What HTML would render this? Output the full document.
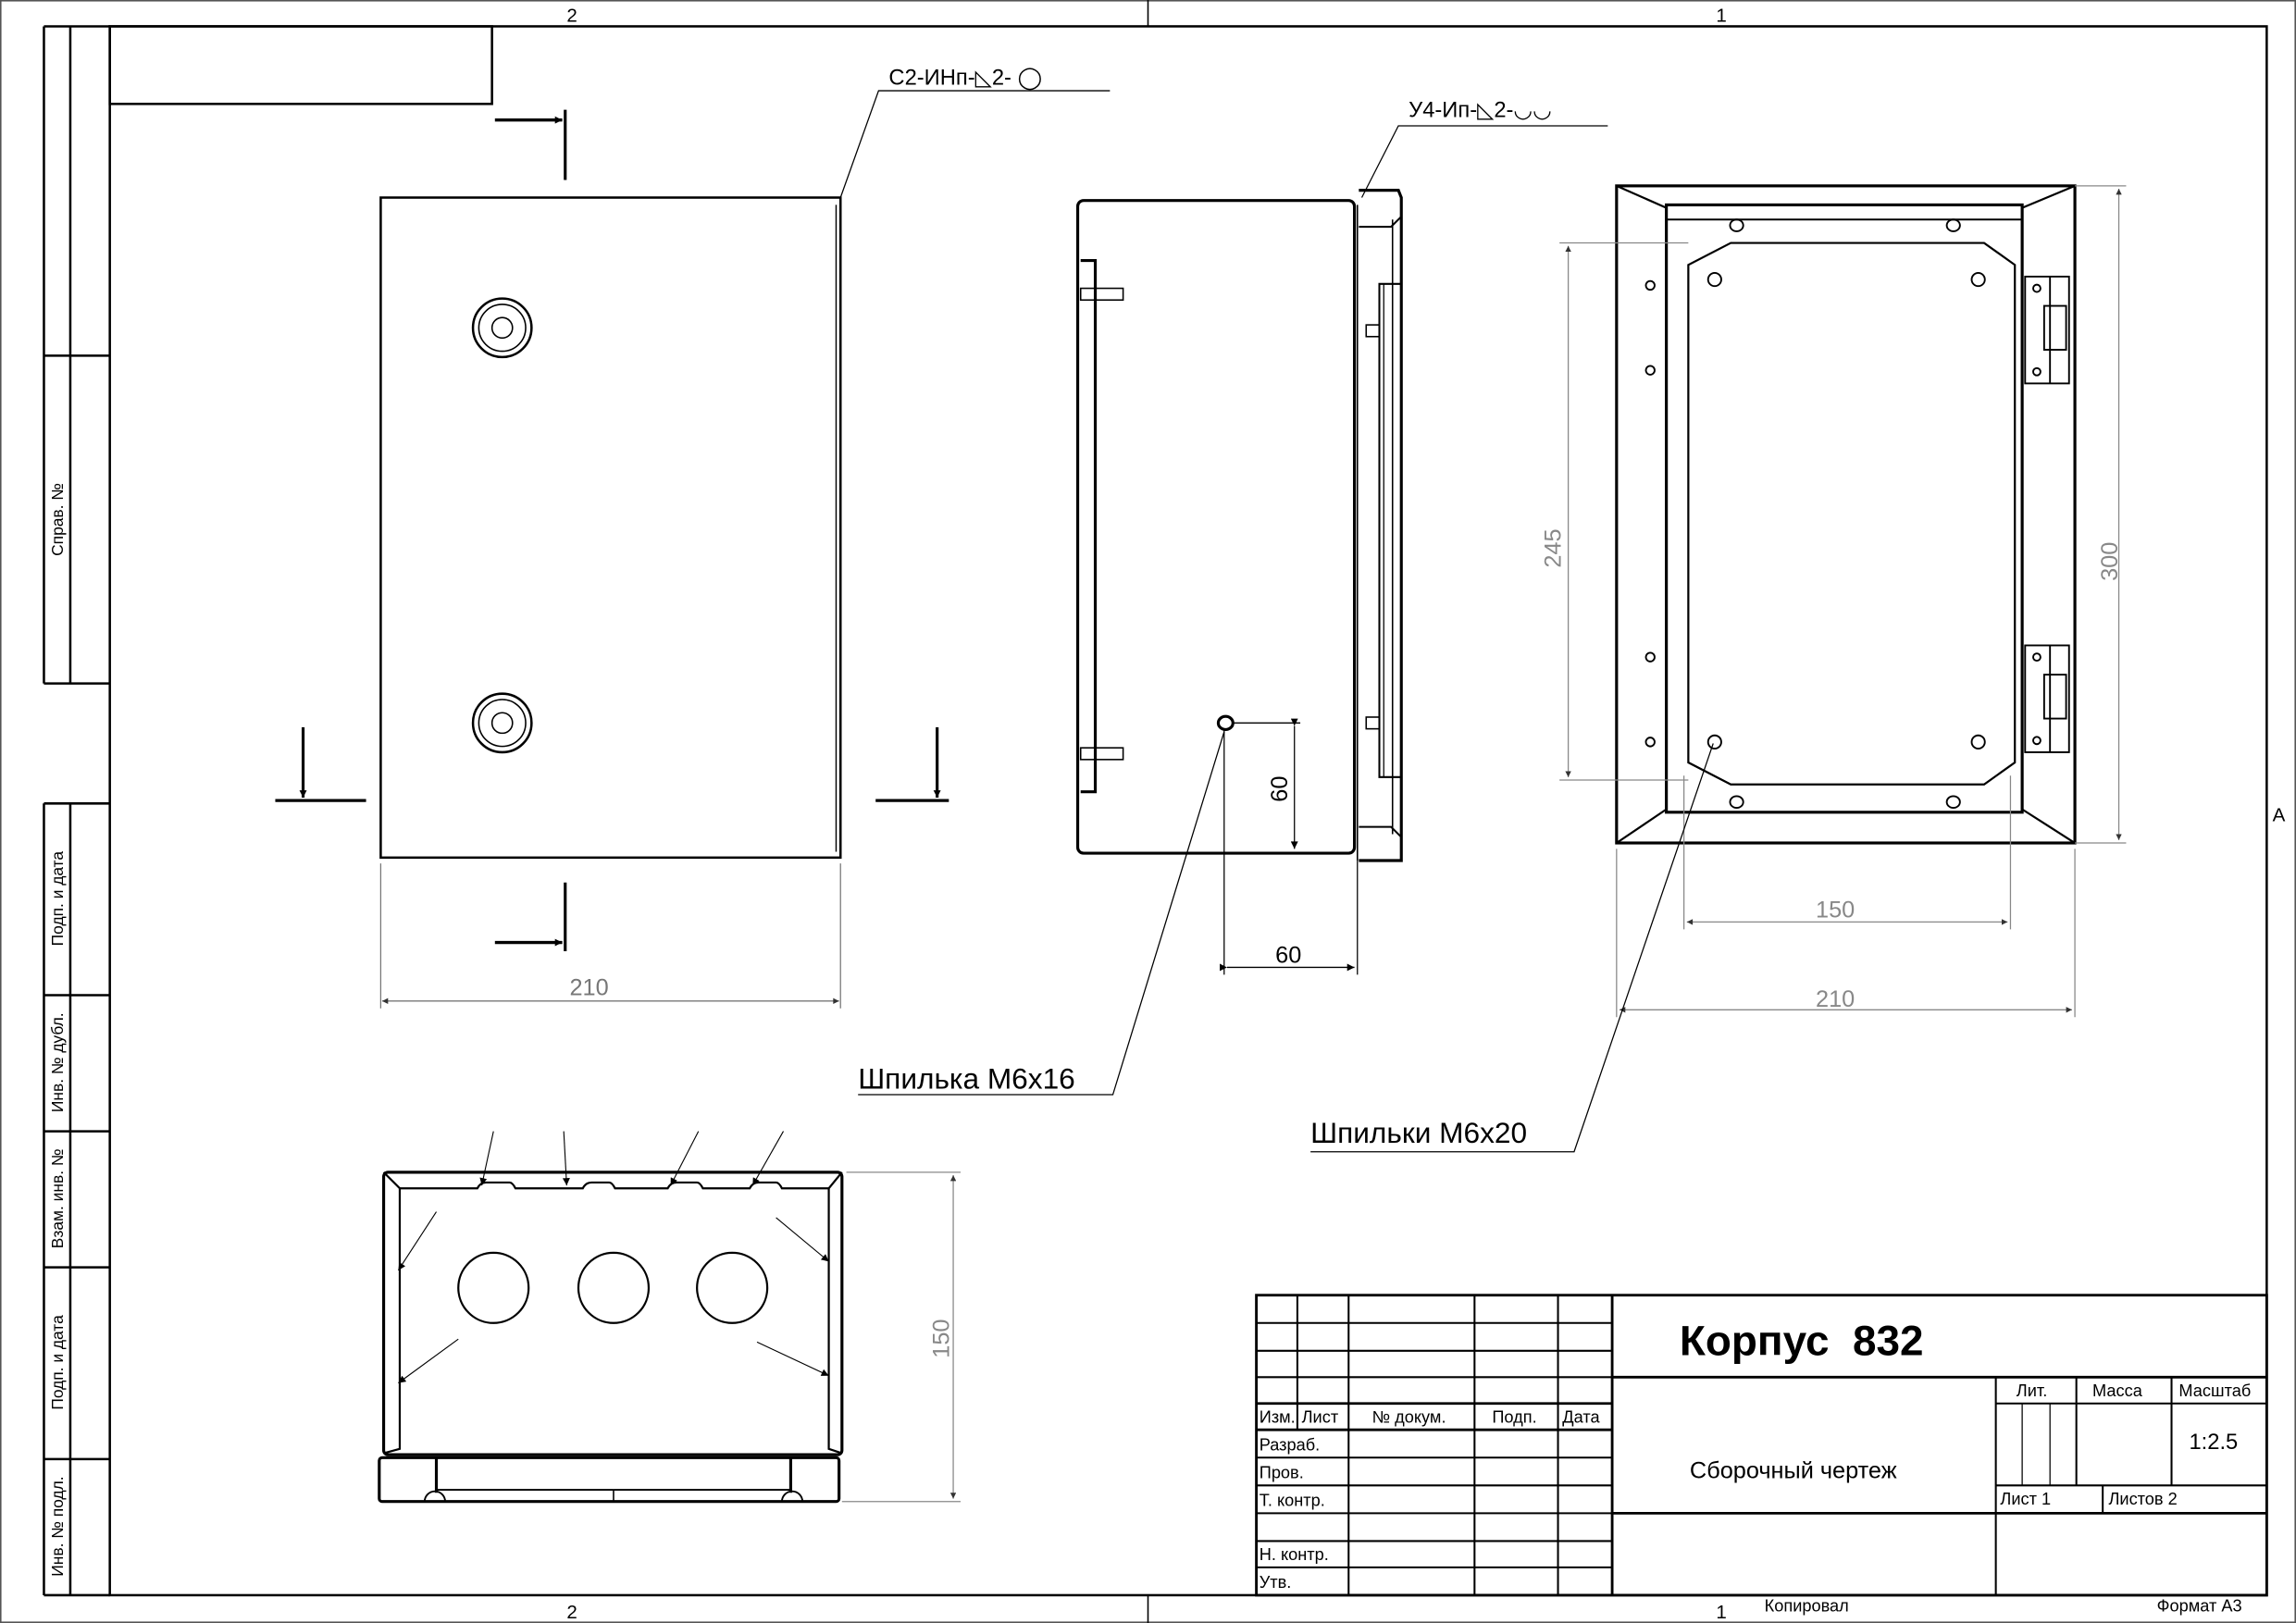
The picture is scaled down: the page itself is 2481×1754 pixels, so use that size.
<!DOCTYPE html>
<html><head><meta charset="utf-8">
<style>
html,body{margin:0;padding:0;background:#fff;}
svg{display:block;}
text{font-family:"Liberation Sans","DejaVu Sans",sans-serif;}
</style></head>
<body>
<svg width="2481" height="1754" viewBox="0 0 1568 1109" preserveAspectRatio="none" xmlns="http://www.w3.org/2000/svg">
<defs>
<marker id="ar" viewBox="0 0 10 10" refX="10" refY="5" markerWidth="8" markerHeight="5" orient="auto" markerUnits="userSpaceOnUse"><path d="M0,0 L10,5 L0,10 z" fill="#000"/></marker>
<marker id="ag" viewBox="0 0 10 10" refX="10" refY="5" markerWidth="9" markerHeight="4" orient="auto-start-reverse" markerUnits="userSpaceOnUse"><path d="M0,0 L10,5 L0,10 z" fill="#333"/></marker>
</defs>
<rect x="0" y="0" width="1568" height="1109" fill="#fff"/>
<rect x="0.5" y="0.5" width="1567" height="1108" fill="none" stroke="#555" stroke-width="1"/>
<g stroke="#000" fill="none" stroke-width="1.6">
<rect x="75" y="18" width="1473" height="1072"/>
<line x1="30" y1="18" x2="75" y2="18"/>
<line x1="30" y1="18" x2="30" y2="467"/>
<line x1="48" y1="18" x2="48" y2="467"/>
<line x1="30" y1="243" x2="75" y2="243"/>
<line x1="30" y1="467" x2="75" y2="467"/>
<line x1="30" y1="549" x2="30" y2="1090"/>
<line x1="48" y1="549" x2="48" y2="1090"/>
<line x1="30" y1="549" x2="75" y2="549"/>
<line x1="30" y1="680" x2="75" y2="680"/>
<line x1="30" y1="773" x2="75" y2="773"/>
<line x1="30" y1="866" x2="75" y2="866"/>
<line x1="30" y1="997" x2="75" y2="997"/>
<line x1="30" y1="1090" x2="75" y2="1090"/>
<rect x="75" y="18" width="261" height="53"/>
<line x1="784" y1="0" x2="784" y2="18" stroke-width="1"/>
<line x1="784" y1="1090" x2="784" y2="1109" stroke-width="1"/>
</g>
<g font-size="13" fill="#000">
<text x="387" y="15">2</text><text x="1172" y="15">1</text>
<text x="387" y="1106">2</text><text x="1172" y="1106">1</text>
<text x="1552" y="561">A</text>
</g>
<g font-size="11" fill="#000">
<text transform="translate(43,355) rotate(-90)" text-anchor="middle">Справ. №</text>
<text transform="translate(43,614) rotate(-90)" text-anchor="middle">Подп. и дата</text>
<text transform="translate(43,726) rotate(-90)" text-anchor="middle">Инв. № дубл.</text>
<text transform="translate(43,819) rotate(-90)" text-anchor="middle">Взам. инв. №</text>
<text transform="translate(43,931) rotate(-90)" text-anchor="middle">Подп. и дата</text>
<text transform="translate(43,1043) rotate(-90)" text-anchor="middle">Инв. № подл.</text>
</g>

<g stroke="#000" fill="none" stroke-width="1.3">
<rect x="858" y="885" width="690" height="205" stroke-width="1.8"/>
<line x1="886" y1="885" x2="886" y2="977"/>
<line x1="921" y1="885" x2="921" y2="1090"/>
<line x1="1007" y1="885" x2="1007" y2="1090"/>
<line x1="1064" y1="885" x2="1064" y2="1090"/>
<line x1="1101" y1="885" x2="1101" y2="1090" stroke-width="1.8"/>
<line x1="858" y1="904" x2="1101" y2="904"/>
<line x1="858" y1="923" x2="1101" y2="923"/>
<line x1="858" y1="941" x2="1101" y2="941"/>
<line x1="858" y1="959" x2="1101" y2="959" stroke-width="1.8"/>
<line x1="858" y1="977" x2="1101" y2="977" stroke-width="1.8"/>
<line x1="858" y1="996" x2="1101" y2="996"/>
<line x1="858" y1="1015" x2="1101" y2="1015"/>
<line x1="858" y1="1034" x2="1101" y2="1034"/>
<line x1="858" y1="1053" x2="1101" y2="1053"/>
<line x1="858" y1="1071" x2="1101" y2="1071"/>
<line x1="1101" y1="941" x2="1548" y2="941" stroke-width="1.8"/>
<line x1="1363" y1="941" x2="1363" y2="1090"/>
<line x1="1418" y1="941" x2="1418" y2="1015"/>
<line x1="1483" y1="941" x2="1483" y2="1015"/>
<line x1="1363" y1="959" x2="1548" y2="959"/>
<line x1="1381" y1="959" x2="1381" y2="1015" stroke-width="0.8"/>
<line x1="1400" y1="959" x2="1400" y2="1015" stroke-width="0.8"/>
<line x1="1363" y1="1015" x2="1548" y2="1015"/>
<line x1="1436" y1="1015" x2="1436" y2="1034"/>
<line x1="1101" y1="1034" x2="1548" y2="1034" stroke-width="1.8"/>
</g>
<g fill="#000" font-size="11.5">
<text x="1147" y="926" font-size="29" font-weight="bold">Корпус&#160; 832</text>
<text x="860" y="972">Изм.</text><text x="889" y="972">Лист</text><text x="937" y="972">№ докум.</text><text x="1019" y="972">Подп.</text><text x="1067" y="972">Дата</text>
<text x="860" y="991">Разраб.</text><text x="860" y="1010">Пров.</text><text x="860" y="1029">Т. контр.</text>
<text x="860" y="1066">Н. контр.</text><text x="860" y="1085">Утв.</text>
<text x="1377" y="954">Лит.</text><text x="1429" y="954">Масса</text><text x="1488" y="954">Масштаб</text>
<text x="1495" y="990" font-size="15">1:2.5</text>
<text x="1154" y="1010" font-size="16">Сборочный чертеж</text>
<text x="1366" y="1028">Лист 1</text><text x="1440" y="1028">Листов 2</text>
<text x="1205" y="1101">Копировал</text><text x="1473" y="1101">Формат А3</text>
</g>

<g stroke="#000" fill="none" stroke-width="1.6">
<rect x="260" y="135" width="314" height="451"/>
<line x1="571" y1="140" x2="571" y2="582" stroke-width="0.9"/>
<circle cx="343" cy="224" r="20"/><circle cx="343" cy="224" r="16" stroke-width="1"/><circle cx="343" cy="224" r="7" stroke-width="1"/>
<circle cx="343" cy="494" r="20"/><circle cx="343" cy="494" r="16" stroke-width="1"/><circle cx="343" cy="494" r="7" stroke-width="1"/>
<line x1="386" y1="75" x2="386" y2="123" stroke-width="2"/>
<line x1="338" y1="82" x2="384" y2="82" stroke-width="2.2" marker-end="url(#ar)"/>
<line x1="386" y1="603" x2="386" y2="650" stroke-width="2"/>
<line x1="338" y1="644" x2="384" y2="644" stroke-width="2.2" marker-end="url(#ar)"/>
<line x1="188" y1="547" x2="250" y2="547" stroke-width="2"/>
<line x1="207" y1="497" x2="207" y2="545" stroke-width="2" marker-end="url(#ar)"/>
<line x1="598" y1="547" x2="648" y2="547" stroke-width="2"/>
<line x1="640" y1="497" x2="640" y2="545" stroke-width="2" marker-end="url(#ar)"/>
</g>
<g stroke="#777" stroke-width="0.8" fill="none">
<line x1="260" y1="590" x2="260" y2="689"/><line x1="574" y1="590" x2="574" y2="689"/>
<line x1="261" y1="684" x2="573" y2="684" marker-start="url(#ag)" marker-end="url(#ag)"/>
</g>
<text x="389" y="680" font-size="16" fill="#777">210</text>
<g stroke="#000" stroke-width="0.8" fill="none">
<polyline points="574,135 600,62 758,62"/>
</g>
<text x="607" y="58" font-size="15">С2-ИНп-◺2- ◯</text>

<g stroke="#000" fill="none" stroke-width="2">
<rect x="736" y="137" width="189" height="446" rx="4"/>
<polyline points="738,178 748,178 748,541 738,541"/>
<rect x="738" y="197" width="29" height="8" stroke-width="1"/>
<rect x="738" y="511" width="29" height="8" stroke-width="1"/>
<path d="M928,130 L955,130 L957,135 L957,588 L928,588"/>
<polyline points="928,155 950,155 957,148" stroke-width="1.3"/>
<polyline points="928,565 950,565 957,572" stroke-width="1.3"/>
<line x1="951" y1="150" x2="951" y2="570" stroke-width="1"/>
<polyline points="957,194 942,194 942,531 957,531" stroke-width="1.3"/>
<line x1="945" y1="194" x2="945" y2="531" stroke-width="0.8"/>
<rect x="933" y="222" width="9" height="8" stroke-width="1"/>
<rect x="933" y="490" width="9" height="8" stroke-width="1"/>
<line x1="927" y1="140" x2="927" y2="588" stroke-width="1"/>
<ellipse cx="837" cy="494" rx="5" ry="4.5"/>
</g>
<g stroke="#000" stroke-width="0.8" fill="none">
<line x1="842" y1="494" x2="888" y2="494"/>
<line x1="884" y1="496" x2="884" y2="580" marker-start="url(#ar)" marker-end="url(#ar)"/>
<line x1="836" y1="499" x2="836" y2="666"/>
<line x1="927" y1="588" x2="927" y2="666"/>
<line x1="838" y1="661" x2="925" y2="661" marker-start="url(#ar)" marker-end="url(#ar)"/>
<polyline points="586,748 760,748 836,500"/>
<polyline points="930,135 955,86 1098,86"/>
</g>
<text transform="translate(879,548) rotate(-90)" font-size="16">60</text>
<text x="871" y="658" font-size="16">60</text>
<text x="586" y="744" font-size="20">Шпилька М6х16</text>
<text x="962" y="80" font-size="15">У4-Ип-◺2-◡◡</text>

<g stroke="#000" fill="none" stroke-width="2">
<rect x="1104" y="127" width="313" height="449"/>
<rect x="1138" y="140" width="243" height="415"/>
<line x1="1138" y1="150" x2="1381" y2="150" stroke-width="1.2"/>
<line x1="1104" y1="127" x2="1138" y2="142" stroke-width="1.4"/>
<line x1="1417" y1="127" x2="1381" y2="142" stroke-width="1.4"/>
<line x1="1104" y1="576" x2="1138" y2="553" stroke-width="1.4"/>
<line x1="1417" y1="576" x2="1381" y2="553" stroke-width="1.4"/>
<polygon points="1182,166 1355,166 1376,181 1376,521 1355,536 1182,536 1153,521 1153,181" stroke-width="1.4"/>
<g stroke-width="1.2">
<ellipse cx="1186" cy="154" rx="4.5" ry="4"/><ellipse cx="1334" cy="154" rx="4.5" ry="4"/>
<ellipse cx="1186" cy="548" rx="4.5" ry="4"/><ellipse cx="1334" cy="548" rx="4.5" ry="4"/>
<circle cx="1127" cy="195" r="3"/><circle cx="1127" cy="253" r="3"/><circle cx="1127" cy="449" r="3"/><circle cx="1127" cy="507" r="3"/>
<circle cx="1171" cy="191" r="4.5"/><circle cx="1351" cy="191" r="4.5"/><circle cx="1171" cy="507" r="4.5"/><circle cx="1351" cy="507" r="4.5"/>
<rect x="1383" y="189" width="30" height="73"/><line x1="1400" y1="189" x2="1400" y2="262"/>
<rect x="1396" y="209" width="15" height="30"/>
<circle cx="1391" cy="197" r="2.5"/><circle cx="1391" cy="254" r="2.5"/>
<rect x="1383" y="441" width="30" height="73"/><line x1="1400" y1="441" x2="1400" y2="514"/>
<rect x="1396" y="461" width="15" height="30"/>
<circle cx="1391" cy="449" r="2.5"/><circle cx="1391" cy="506" r="2.5"/>
</g>
</g>
<g stroke="#888" stroke-width="0.8" fill="none">
<line x1="1065" y1="166" x2="1153" y2="166"/><line x1="1065" y1="533" x2="1153" y2="533"/>
<line x1="1071" y1="168" x2="1071" y2="531" marker-start="url(#ag)" marker-end="url(#ag)"/>
<line x1="1417" y1="127" x2="1452" y2="127"/><line x1="1417" y1="576" x2="1452" y2="576"/>
<line x1="1447" y1="129" x2="1447" y2="574" marker-start="url(#ag)" marker-end="url(#ag)"/>
<line x1="1150" y1="530" x2="1150" y2="635"/><line x1="1373" y1="530" x2="1373" y2="635"/>
<line x1="1152" y1="630" x2="1371" y2="630" marker-start="url(#ag)" marker-end="url(#ag)"/>
<line x1="1104" y1="580" x2="1104" y2="695"/><line x1="1417" y1="580" x2="1417" y2="695"/>
<line x1="1106" y1="690" x2="1415" y2="690" marker-start="url(#ag)" marker-end="url(#ag)"/>
</g>
<text transform="translate(1066,388) rotate(-90)" font-size="16" fill="#888">245</text>
<text transform="translate(1446,397) rotate(-90)" font-size="16" fill="#888">300</text>
<text x="1240" y="627" font-size="16" fill="#888">150</text>
<text x="1240" y="688" font-size="16" fill="#888">210</text>
<polyline points="895,787 1075,787 1170,508" stroke="#000" stroke-width="0.8" fill="none"/>
<text x="895" y="781" font-size="20">Шпильки М6х20</text>

<g stroke="#000" fill="none" stroke-width="2">
<rect x="262" y="801" width="313" height="193" rx="3"/>
<polyline points="262,801 273,812 273,990 262,993" stroke-width="1.4"/>
<polyline points="575,801 566,812 566,990 575,993" stroke-width="1.4"/>
<path d="M273,812 L326,812 Q328,808 332,808 L348,808 Q350,808 352,812 L398,812 Q400,808 404,808 L416,808 Q418,808 420,812 L456,812 Q458,808 462,808 L476,808 Q478,808 480,812 L512,812 Q514,808 518,808 L530,808 Q532,808 534,812 L566,812" stroke-width="1.4"/>
<circle cx="337" cy="880" r="24" stroke-width="1.4"/>
<circle cx="419" cy="880" r="24" stroke-width="1.4"/>
<circle cx="500" cy="880" r="24" stroke-width="1.4"/>
<rect x="259" y="996" width="314" height="30" rx="2"/>
<line x1="298" y1="996" x2="298" y2="1020"/><line x1="540" y1="996" x2="540" y2="1020"/>
<line x1="298" y1="1018" x2="540" y2="1018" stroke-width="1.2"/>
<line x1="419" y1="1018" x2="419" y2="1026" stroke-width="1"/>
<path d="M290,1026 A7,7 0 0 1 304,1026" stroke-width="1.2"/>
<path d="M534,1026 A7,7 0 0 1 548,1026" stroke-width="1.2"/>
</g>
<g stroke="#000" stroke-width="0.7" fill="none">
<line x1="337" y1="773" x2="329" y2="810" marker-end="url(#ar)"/>
<line x1="385" y1="773" x2="387" y2="810" marker-end="url(#ar)"/>
<line x1="477" y1="773" x2="458" y2="810" marker-end="url(#ar)"/>
<line x1="535" y1="773" x2="514" y2="810" marker-end="url(#ar)"/>
<line x1="298" y1="828" x2="272" y2="868" marker-end="url(#ar)"/>
<line x1="313" y1="915" x2="272" y2="945" marker-end="url(#ar)"/>
<line x1="530" y1="832" x2="566" y2="862" marker-end="url(#ar)"/>
<line x1="517" y1="917" x2="566" y2="940" marker-end="url(#ar)"/>
</g>
<g stroke="#888" stroke-width="0.8" fill="none">
<line x1="578" y1="801" x2="656" y2="801"/><line x1="575" y1="1026" x2="656" y2="1026"/>
<line x1="651" y1="803" x2="651" y2="1024" marker-start="url(#ag)" marker-end="url(#ag)"/>
</g>
<text transform="translate(648,928) rotate(-90)" font-size="16" fill="#888">150</text>
</svg>
</body></html>
